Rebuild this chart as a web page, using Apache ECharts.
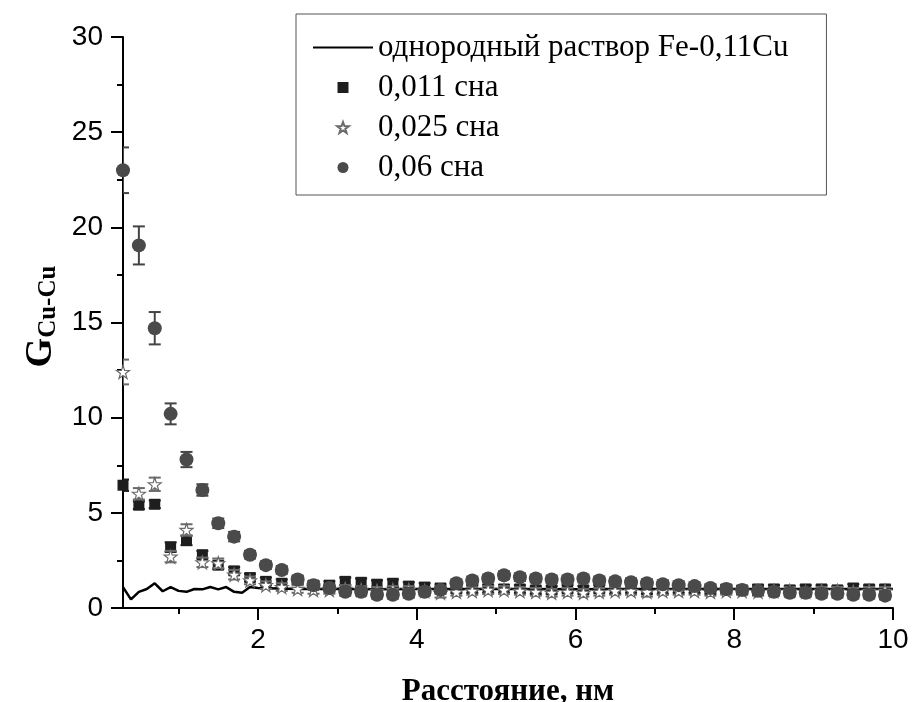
<!DOCTYPE html>
<html>
<head>
<meta charset="utf-8">
<script src="https://cdn.jsdelivr.net/npm/echarts@6/dist/echarts.min.js"></script>
<style>
  html, body { margin: 0; padding: 0; background: #fff; }
  #chart { width: 912px; height: 702px; }
</style>
</head>
<body>
<div id="chart"></div>
<script>
// distance, nm (points every 0.2 nm)
const xPts = [0.3, 0.5, 0.7, 0.9, 1.1, 1.3, 1.5, 1.7, 1.9, 2.1, 2.3, 2.5, 2.7, 2.9, 3.1, 3.3, 3.5, 3.7, 3.9, 4.1,
  4.3, 4.5, 4.7, 4.9, 5.1, 5.3, 5.5, 5.7, 5.9, 6.1, 6.3, 6.5, 6.7, 6.9, 7.1, 7.3, 7.5, 7.7, 7.9, 8.1,
  8.3, 8.5, 8.7, 8.9, 9.1, 9.3, 9.5, 9.7, 9.9]

// 0,011 сна (squares)
const sq011 = [6.45, 5.4, 5.45, 3.2, 3.55, 2.8, 2.25, 1.95, 1.6, 1.4, 1.3, 1.45, 1.2, 1.2, 1.4, 1.35, 1.25, 1.3, 1.15, 1.1,
  1.05, 1.0, 1.0, 1.0, 1.0, 1.0, 0.95, 0.95, 1.0, 0.95, 1.0, 1.0, 1.0, 0.95, 0.95, 1.0, 1.0, 0.95, 1.0, 0.95,
  1.0, 1.0, 0.95, 1.0, 1.0, 0.95, 1.05, 1.0, 1.0]
const sq011Err = [0.3, 0.2, 0.2, 0.25, 0.25, 0.2, 0.2, 0.2, 0.2, 0.2, 0.2, 0.2, 0.2, 0.2, 0.2, 0.2, 0.2, 0.2, 0.2, 0.2,
  0.2, 0.2, 0.2, 0.2, 0.2, 0.2, 0.2, 0.2, 0.2, 0.2, 0.2, 0.25, 0.2, 0.2, 0.2, 0.2, 0.2, 0.2, 0.2, 0.2,
  0.2, 0.2, 0.2, 0.2, 0.2, 0.2, 0.2, 0.2, 0.2]

// 0,025 сна (stars)
const st025 = [12.4, 6.0, 6.5, 2.7, 4.1, 2.4, 2.35, 1.75, 1.45, 1.2, 1.1, 1.0, 0.95, 0.95, 1.0, 0.95, 0.9, 0.95, 0.95, 0.9,
  0.8, 0.85, 0.9, 0.95, 0.95, 0.9, 0.85, 0.8, 0.85, 0.8, 0.85, 0.9, 0.9, 0.85, 0.9, 0.9, 0.9, 0.85, 0.9, 0.9,
  0.85, 0.9, 0.9, 0.85, 0.9, 0.9, 0.85, 0.9, 0.9]
const st025Err = [0.65, 0.3, 0.35, 0.3, 0.3, 0.25, 0.25, 0.25, 0.2, 0.2, 0.2, 0.2, 0.2, 0.2, 0.2, 0.2, 0.2, 0.2, 0.2, 0.2,
  0.25, 0.2, 0.2, 0.2, 0.2, 0.2, 0.2, 0.2, 0.2, 0.2, 0.2, 0.2, 0.2, 0.25, 0.2, 0.2, 0.2, 0.2, 0.2, 0.2,
  0.2, 0.2, 0.2, 0.2, 0.2, 0.2, 0.2, 0.2, 0.2]

// 0,06 сна (circles)
const ci06 = [23.0, 19.05, 14.7, 10.2, 7.8, 6.2, 4.45, 3.75, 2.8, 2.25, 2.0, 1.5, 1.2, 1.05, 0.85, 0.85, 0.7, 0.7, 0.75, 0.85,
  0.95, 1.3, 1.45, 1.55, 1.72, 1.62, 1.55, 1.5, 1.5, 1.55, 1.45, 1.4, 1.35, 1.3, 1.25, 1.2, 1.15, 1.05, 1.0, 0.95,
  0.9, 0.85, 0.8, 0.8, 0.75, 0.75, 0.7, 0.7, 0.65]
const ci06Err = [1.2, 1.0, 0.85, 0.55, 0.4, 0.3, 0.25, 0.25, 0.2, 0.2, 0.2, 0.2, 0.2, 0.2, 0.2, 0.2, 0.2, 0.2, 0.2, 0.2,
  0.2, 0.2, 0.2, 0.2, 0.2, 0.2, 0.2, 0.2, 0.2, 0.2, 0.2, 0.2, 0.2, 0.2, 0.2, 0.2, 0.2, 0.2, 0.2, 0.2,
  0.2, 0.2, 0.2, 0.2, 0.2, 0.2, 0.2, 0.2, 0.2]

// однородный раствор Fe-0,11Cu (line)
const lineX = [0.3, 0.4, 0.5, 0.6, 0.7, 0.8, 0.9, 1.0, 1.1, 1.2, 1.3, 1.4, 1.5, 1.6, 1.7, 1.8, 1.9, 2.0,
  2.5, 3.0, 3.5, 4.0, 4.5, 5.0, 5.5, 6.0, 6.5, 7.0, 7.5, 8.0, 8.5, 9.0, 9.5, 10.0]
const lineY = [1.1, 0.45, 0.85, 1.0, 1.3, 0.88, 1.1, 0.9, 0.85, 1.0, 0.98, 1.1, 0.98, 1.1, 0.85, 0.8, 1.1, 1.05,
  1.0, 1.0, 0.98, 1.0, 1.0, 1.0, 1.0, 0.98, 1.0, 1.0, 1.0, 1.0, 1.0, 1.0, 1.0, 1.0]

const majorX = [2, 4, 6, 8, 10]
const minorX = [1, 3, 5, 7, 9]

const names = ['однородный раствор Fe-0,11Cu', '0,011 сна', '0,025 сна', '0,06 сна']

const starPath = 'path://M0,-10L2.35,-3.24L9.51,-3.09L3.8,1.24L5.88,8.09L0,4L-5.88,8.09L-3.8,1.24L-9.51,-3.09L-2.35,-3.24Z'
const squarePath = 'path://M0,0H10V10H0Z'

function pairs(xs, ys) {
  return xs.map((x, i) => [x, ys[i]])
}

function errorBars(name, ys, errs, color, z) {
  return {
    name: name,
    type: 'custom',
    z: z,
    clip: true,
    silent: true,
    data: xPts.map((x, i) => [x, ys[i] - errs[i], ys[i] + errs[i]]),
    renderItem(params, api) {
      const lo = api.coord([api.value(0), api.value(1)])
      const hi = api.coord([api.value(0), api.value(2)])
      const w = 6
      const style = { stroke: color, lineWidth: 2 }
      return {
        type: 'group',
        children: [
          { type: 'line', shape: { x1: lo[0], y1: lo[1], x2: hi[0], y2: hi[1] }, style },
          { type: 'line', shape: { x1: lo[0] - w, y1: lo[1], x2: lo[0] + w, y2: lo[1] }, style },
          { type: 'line', shape: { x1: hi[0] - w, y1: hi[1], x2: hi[0] + w, y2: hi[1] }, style },
        ],
      }
    },
  }
}

const chart = echarts.init(document.getElementById('chart'))

chart.setOption({
  animation: false,
  grid: { left: 123, right: 19, top: 37, bottom: 94, outerBoundsMode: 'none' },
  legend: {
    data: [
      { name: names[0], itemStyle: { opacity: 0 } },
      { name: names[1], icon: squarePath },
      { name: names[2] },
      { name: names[3] },
    ],
    orient: 'vertical',
    left: 296,
    top: 14,
    padding: [18, 38, 12, 16],
    itemGap: 9,
    itemWidth: 60,
    itemHeight: 11,
    borderColor: '#555',
    borderWidth: 1,
    borderRadius: 0,
    textStyle: { fontFamily: 'Liberation Serif', fontSize: 31, color: '#000', lineHeight: 30 },
  },
  xAxis: [
    {
      type: 'value',
      min: 0.3,
      max: 10,
      name: 'Расстояние, нм',
      nameLocation: 'middle',
      nameGap: 68,
      nameTextStyle: { fontFamily: 'Liberation Serif', fontWeight: 'bold', fontSize: 31, color: '#000' },
      axisLine: { lineStyle: { color: '#000', width: 2 } },
      axisTick: { customValues: majorX, length: 12, lineStyle: { color: '#000', width: 2 } },
      axisLabel: { customValues: majorX, fontFamily: 'Liberation Sans', fontSize: 28, color: '#000', margin: 18 },
      splitLine: { show: false },
    },
    {
      type: 'value',
      min: 0.3,
      max: 10,
      position: 'bottom',
      axisLine: { show: false },
      axisTick: { customValues: minorX, length: 6, lineStyle: { color: '#000', width: 2 } },
      axisLabel: { show: false },
      splitLine: { show: false },
    },
  ],
  yAxis: {
    type: 'value',
    min: 0,
    max: 30,
    interval: 5,
    name: '{g|G}{s|Cu-Cu}',
    nameLocation: 'middle',
    nameRotate: 90,
    nameGap: 62,
    nameTextStyle: {
      rich: {
        g: { fontFamily: 'Liberation Serif', fontWeight: 'bold', fontSize: 38, lineHeight: 40, color: '#000', padding: [0, 0, 0, 12] },
        s: { fontFamily: 'Liberation Serif', fontWeight: 'bold', fontSize: 25, lineHeight: 22, color: '#000', verticalAlign: 'bottom' },
      },
    },
    axisLine: { show: true, lineStyle: { color: '#000', width: 2 } },
    axisTick: { length: 12, lineStyle: { color: '#000', width: 2 } },
    minorTick: { show: true, splitNumber: 2, length: 6, lineStyle: { color: '#000', width: 2 } },
    axisLabel: { fontFamily: 'Liberation Sans', fontSize: 28, color: '#000', margin: 20 },
    splitLine: { show: false },
  },
  series: [
    {
      name: names[0],
      type: 'line',
      data: pairs(lineX, lineY),
      symbol: 'none',
      z: 1,
      lineStyle: { color: '#000', width: 2.5 },
      itemStyle: { color: '#000' },
    },
    errorBars('err011', sq011, sq011Err, '#1e1e1e', 2),
    {
      name: names[1],
      type: 'scatter',
      data: pairs(xPts, sq011),
      symbol: 'rect',
      symbolSize: 11,
      z: 2,
      itemStyle: { color: '#1e1e1e', opacity: 1 },
    },
    errorBars('err025', st025, st025Err, '#6a6a6a', 3),
    {
      name: names[2],
      type: 'scatter',
      data: pairs(xPts, st025),
      symbol: starPath,
      symbolSize: 13,
      z: 3,
      itemStyle: { color: '#fff', borderColor: '#6a6a6a', borderWidth: 1.2, opacity: 1 },
    },
    errorBars('err06', ci06, ci06Err, '#444', 4),
    {
      name: names[3],
      type: 'scatter',
      data: pairs(xPts, ci06),
      symbol: 'circle',
      symbolSize: 14,
      z: 4,
      itemStyle: { color: '#4a4a4a', opacity: 1 },
    },
  ],
})
</script>
</body>
</html>
